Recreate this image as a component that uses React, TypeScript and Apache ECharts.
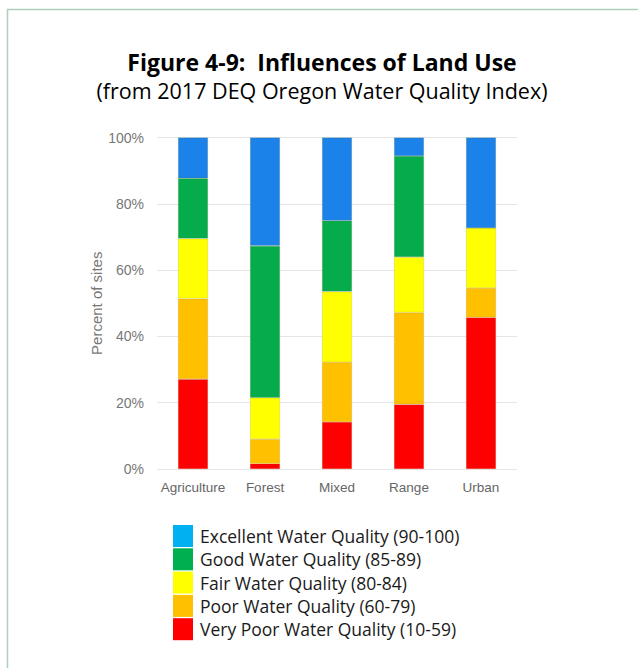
import React, { useEffect, useRef } from "react";
import * as echarts from "echarts";

const categories = ["Agriculture", "Forest", "Mixed", "Range", "Urban"];
const yTicks = [0, 20, 40, 60, 80, 100];

const veryPoor = [27.1, 1.6, 14.2, 19.5, 45.7];
const poor = [24.3, 7.4, 18.0, 27.7, 8.9];
const fair = [18.1, 12.5, 21.3, 16.7, 18.1];
const good = [18.2, 45.8, 21.4, 30.5, 0];
const excellent = [12.3, 32.7, 25.1, 5.6, 27.3];

const seriesNames = [
  "Very Poor Water Quality (10-59)",
  "Poor Water Quality (60-79)",
  "Fair Water Quality (80-84)",
  "Good Water Quality (85-89)",
  "Excellent Water Quality (90-100)",
];
const seriesValues = [veryPoor, poor, fair, good, excellent];
const barColors = ["#ff0000", "#ffc000", "#ffff00", "#06ac4c", "#1a82e8"];
const legendColors = ["#ff0000", "#ffc000", "#ffff00", "#00b050", "#00b0f0"];

export default function App() {
  const ref = useRef<HTMLDivElement>(null);
  useEffect(() => {
    if (!ref.current) return;
    const chart = echarts.init(ref.current, null, { renderer: "svg" });
    const series = seriesNames.map((name, i) => ({
      name,
      type: "bar" as const,
      stack: "total",
      barWidth: 30,
      data: seriesValues[i],
      itemStyle: {
        color: barColors[i],
        borderColor: "rgba(120,100,0,0.25)",
        borderWidth: 0.6,
      },
    }));
    const legendData = seriesNames
      .map((name, i) => ({ name, itemStyle: { color: legendColors[i], borderWidth: 0 } }))
      .reverse();
    chart.setOption({
      animation: false,
      backgroundColor: "#ffffff",
      title: [
        {
          text: "Figure 4-9:  Influences of Land Use",
          left: 317,
          textAlign: "center",
          top: 45,
          textStyle: {
            fontFamily: "Open Sans",
            fontWeight: "bold",
            fontSize: 23,
            color: "#000000",
          },
        },
        {
          text: "(from 2017 DEQ Oregon Water Quality Index)",
          left: 317,
          textAlign: "center",
          top: 74,
          textStyle: {
            fontFamily: "Open Sans",
            fontWeight: "normal",
            fontSize: 21.5,
            color: "#000000",
          },
        },
      ],
      grid: { left: 157, right: 121, top: 137.5, bottom: 199 },
      xAxis: {
        type: "category",
        data: categories,
        axisLine: { show: false },
        axisTick: { show: false },
        axisLabel: {
          interval: 0,
          margin: 11,
          color: "#666666",
          fontFamily: "Liberation Sans",
          fontSize: 13.5,
        },
      },
      yAxis: {
        type: "value",
        min: yTicks[0],
        max: yTicks[yTicks.length - 1],
        interval: 20,
        name: "Percent of sites",
        nameLocation: "middle",
        nameGap: 53,
        nameMoveOverlap: false,
        nameTextStyle: {
          color: "#777777",
          fontFamily: "Liberation Sans",
          fontSize: 15,
        },
        axisLabel: {
          formatter: "{value}%",
          margin: 13,
          color: "#777777",
          fontFamily: "Liberation Sans",
          fontSize: 14,
        },
        splitLine: { lineStyle: { color: "#e6e6e6", width: 1 } },
      },
      legend: {
        orient: "vertical",
        left: 173,
        top: 525,
        padding: 0,
        itemWidth: 20,
        itemHeight: 22,
        itemGap: 1.3,
        icon: "rect",
        data: legendData,
        textStyle: {
          fontFamily: "Open Sans",
          fontSize: 17.5,
          color: "#1a1a1a",
          padding: [0, 0, 0, 2],
        },
        selectedMode: false,
      },
      graphic: [
        {
          type: "polyline",
          shape: { points: [[7.5, 668], [7.5, 9.5], [638, 9.5]] },
          style: { stroke: "#aecfbb", lineWidth: 1.5, fill: "none" },
          silent: true,
        },
      ],
      series,
    });
    return () => chart.dispose();
  }, []);
  return (
    <div
      ref={ref}
      style={{ position: "fixed", left: 0, top: 0, width: 638, height: 668 }}
    />
  );
}
